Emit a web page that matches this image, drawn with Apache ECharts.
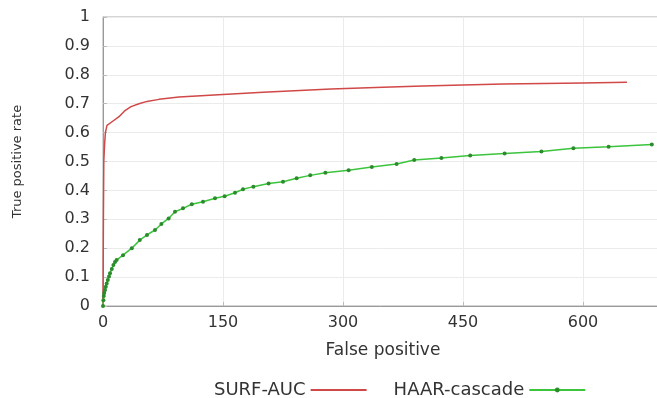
<!DOCTYPE html>
<html style="height: 100%">
<head>
    <meta charset="utf-8">
    <title>ROC</title>
    <script src="https://cdn.jsdelivr.net/npm/echarts@6/dist/echarts.min.js"></script>
</head>
<body style="height: 100%; margin: 0; background: #fff">
    <div id="main" style="width: 657px; height: 398px"></div>
    <script type="text/javascript">
        // 曲线数据 [false positive, true positive rate]
        var surfAuc = [
            [0,0],[0.5,0.3],[1,0.5],[2,0.56],[3,0.6],[5,0.625],[10,0.635],[20,0.655],
            [27,0.675],[35,0.69],[45,0.7],[55,0.708],[70,0.715],[95,0.723],[150,0.732],
            [200,0.74],[285,0.751],[350,0.757],[400,0.761],[450,0.765],[500,0.768],
            [550,0.77],[600,0.772],[655,0.774]
        ];
        var haarCascade = [
            [0,0],[0.5,0.02],[1,0.035],[1.5,0.045],[2.5,0.055],[3.5,0.067],[4.6,0.078],
            [6,0.09],[7.5,0.102],[8.75,0.113],[11,0.128],[13,0.142],[15,0.152],[17,0.159],
            [25,0.176],[36,0.2],[46,0.228],[55,0.246],[65,0.263],[73,0.284],[82,0.303],
            [90,0.326],[100,0.338],[111,0.352],[125,0.361],[140,0.373],[152,0.38],
            [165,0.392],[175,0.404],[188,0.413],[207,0.424],[225,0.43],[242,0.442],
            [259,0.452],[278,0.461],[307,0.47],[336,0.481],[367,0.491],[389,0.505],
            [423,0.512],[459,0.521],[502,0.528],[548,0.535],[588,0.546],[632,0.551],
            [686,0.559]
        ];
        var seriesNames = ['SURF-AUC', 'HAAR-cascade'];

        var myChart = echarts.init(document.getElementById('main'));
        var font = 'DejaVu Sans';

        var option = {
            animation: false,
            textStyle: { fontFamily: font },
            grid: {
                left: 103, top: 17, right: -6, bottom: 92,
                outerBoundsMode: 'none',
                containLabel: false,
                show: true, borderColor: '#aaa', borderWidth: 1
            },
            legend: {
                data: [
                    { name: seriesNames[0], itemStyle: { opacity: 0 } },
                    { name: seriesNames[1] }
                ],
                top: 376,
                left: 209,
                align: 'right',
                itemWidth: 56,
                itemHeight: 6,
                itemGap: 26,
                textStyle: { fontSize: 18, color: '#333', fontFamily: font }
            },
            xAxis: {
                type: 'value',
                min: 0, max: 700, interval: 150,
                name: 'False positive',
                nameLocation: 'middle',
                nameGap: 36,
                nameTextStyle: { fontSize: 17, color: '#333' },
                axisLine: { lineStyle: { color: '#999' } },
                axisTick: { inside: true, length: 4, lineStyle: { color: '#bbb' } },
                axisLabel: { fontSize: 16, color: '#333', margin: 9, showMaxLabel: false },
                splitLine: { lineStyle: { color: '#ebebeb' } }
            },
            yAxis: {
                type: 'value',
                min: 0, max: 1, interval: 0.1,
                name: 'True positive rate',
                nameLocation: 'middle',
                nameGap: 79,
                nameRotate: 90,
                nameTextStyle: { fontSize: 13, color: '#333' },
                axisLine: { show: true, lineStyle: { color: '#999' } },
                axisTick: { show: true, inside: true, length: 4, lineStyle: { color: '#bbb' } },
                axisLabel: { fontSize: 16, color: '#333', margin: 13 },
                splitLine: { lineStyle: { color: '#ebebeb' } }
            },
            series: [
                {
                    name: seriesNames[0],
                    type: 'line',
                    data: surfAuc,
                    symbol: 'none',
                    lineStyle: { color: '#d04848', width: 1.5 },
                    itemStyle: { color: '#d04848' }
                },
                {
                    name: seriesNames[1],
                    type: 'line',
                    data: haarCascade,
                    symbol: 'circle',
                    symbolSize: 4,
                    lineStyle: { color: '#3cc43c', width: 1.5 },
                    itemStyle: { color: '#2a8c2a', borderWidth: 0 }
                }
            ]
        };

        myChart.setOption(option);
    </script>
</body>
</html>
